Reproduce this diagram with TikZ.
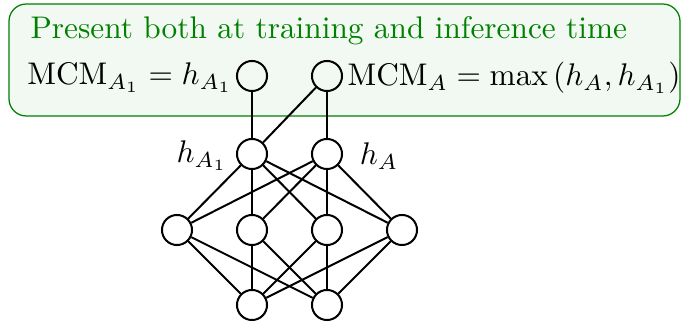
\documentclass[tikz,border=0pt]{standalone}
\usepackage{amsmath}
\definecolor{dkgreen}{rgb}{0,0.5,0}
\begin{document}
\begin{tikzpicture}[x=0.3195pt,y=-0.3195pt,
  neuron/.style={circle,draw,line width=0.64pt,minimum size=9.6pt,inner sep=0pt,fill=white},
  conn/.style={line width=0.64pt}]
\useasboundingbox (0,0) rectangle (683,325);
\draw[dkgreen,fill=dkgreen!5,line width=0.4pt,rounded corners=5.5pt] (9,4) rectangle (680,116);
\node[anchor=base west,text=dkgreen,inner sep=0pt] (title) at (30,39) {Present both at training and inference time};
% top neurons
\node[neuron,fill=none] (t1) at (252,76) {};
\node[neuron,fill=none] (t2) at (327,76) {};
\node[anchor=east,inner sep=0pt] (l1) at (233,78) {$\mathrm{MCM}_{A_1}=h_{A_1}$};
\node[anchor=west,inner sep=0pt] (l2) at (347,78) {$\mathrm{MCM}_{A}=\max\left(h_A,h_{A_1}\right)$};
% h layer
\node[neuron] (h1) at (252,154) {};
\node[neuron] (h2) at (327,154) {};
\node[inner sep=0pt] (lh1) at (202,156) {$h_{A_1}$};
\node[inner sep=0pt] (lh2) at (379,156) {$h_A$};
% middle
\node[neuron] (m1) at (177,230) {};
\node[neuron] (m2) at (252,230) {};
\node[neuron] (m3) at (327,230) {};
\node[neuron] (m4) at (402,230) {};
% bottom
\node[neuron] (b1) at (252,305) {};
\node[neuron] (b2) at (327,305) {};
% connections
\draw[conn] (t1) -- (h1);
\draw[conn] (t2) -- (h2);
\draw[conn] (t2) -- (h1);
\foreach \h in {h1,h2}{\foreach \m in {m1,m2,m3,m4}{\draw[conn] (\h) -- (\m);}}
\foreach \b in {b1,b2}{\foreach \m in {m1,m2,m3,m4}{\draw[conn] (\b) -- (\m);}}
\end{tikzpicture}
\end{document}
